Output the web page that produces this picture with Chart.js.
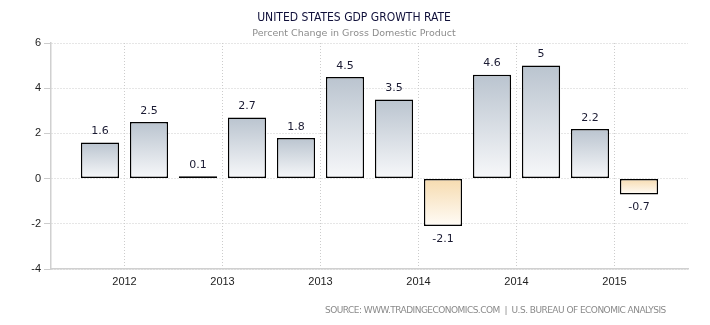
<!DOCTYPE html>
<html>
<head>
<meta charset="utf-8">
<script src="https://cdn.jsdelivr.net/npm/chart.js@4"></script>
<style>
  body { margin: 0; background: #fff; }
</style>
</head>
<body>
<canvas id="gdpChart" width="710" height="325"></canvas>
<script>
/* --------------- Data --------------------- */
const quarters = ["2012 Q1", "2012 Q2", "2012 Q3", "2012 Q4", "2013 Q1", "2013 Q2", "2013 Q3", "2013 Q4", "2014 Q1", "2014 Q2", "2014 Q3", "2014 Q4"];
const growth = [1.6, 2.5, 0.1, 2.7, 1.8, 4.5, 3.5, -2.1, 4.6, 5, 2.2, -0.7];
const yearLabels = ["2012", "2013", "2013", "2014", "2014", "2015"];
const yearTickAt = [0.5, 2.5, 4.5, 6.5, 8.5, 10.5];

const titleText = "UNITED STATES GDP GROWTH RATE";
const subtitleText = "Percent Change in Gross Domestic Product";
const sourceText = "SOURCE: WWW.TRADINGECONOMICS.COM  |  U.S. BUREAU OF ECONOMIC ANALYSIS";

/* --------------- Bar gradient (per bar, top to zero line) --------------------- */
const barFill = (context) => {
  const chart = context.chart;
  const y = chart.scales.y;
  if (!chart.chartArea || !y || context.raw == null) return "#c0c9d3";
  const v = context.raw.y;
  const top = y.getPixelForValue(Math.max(v, 0));
  const bottom = y.getPixelForValue(Math.min(v, 0));
  const g = chart.ctx.createLinearGradient(0, top, 0, bottom === top ? top + 1 : bottom);
  if (v >= 0) {
    g.addColorStop(0, "#bac4cf");
    g.addColorStop(1, "#f7f8fa");
  } else {
    g.addColorStop(0, "#f6dbaf");
    g.addColorStop(1, "#fffcf7");
  }
  return g;
};

/* --------------- Value labels + titles --------------------- */
const textPlugin = {
  id: "textPlugin",
  afterDatasetsDraw(chart) {
    const ctx = chart.ctx;
    const meta = chart.getDatasetMeta(0);
    ctx.save();
    ctx.font = "11px 'DejaVu Sans'";
    ctx.fillStyle = "#1b1b33";
    ctx.textAlign = "center";
    ctx.textBaseline = "middle";
    meta.data.forEach((bar, i) => {
      const v = growth[i];
      const y = v >= 0 ? bar.y - 11 : bar.y + 13;
      ctx.fillText(String(v), bar.x, y);
    });
    ctx.restore();
  },
  afterDraw(chart) {
    const ctx = chart.ctx;
    ctx.save();
    ctx.textAlign = "center";
    ctx.textBaseline = "middle";
    ctx.fillStyle = "#10103a";
    ctx.font = "12px 'DejaVu Sans Condensed', 'DejaVu Sans'";
    ctx.fillText(titleText, 354, 18);
    ctx.fillStyle = "#8c8c8c";
    ctx.font = "9.5px 'DejaVu Sans'";
    ctx.fillText(subtitleText, 354, 34);

    ctx.font = "9px 'DejaVu Sans'";
    ctx.fillStyle = "#8a8a8a";
    ctx.textAlign = "left";
    const w = ctx.measureText(sourceText).width;
    const spacing = (341 - w) / (sourceText.length - 1);
    ctx.letterSpacing = spacing.toFixed(2) + "px";
    ctx.fillText(sourceText, 325, 311);
    ctx.restore();
  }
};

/* --------------- Chart --------------------- */
new Chart(document.getElementById("gdpChart"), {
  type: "bar",
  plugins: [textPlugin],
  data: {
    datasets: [
      {
        label: "GDP Growth Rate",
        data: growth.map((v, i) => ({ x: i, y: v, q: quarters[i] })),
        backgroundColor: barFill,
        borderColor: "#000000",
        borderWidth: 1.5,
        borderSkipped: false,
        barPercentage: 0.78,
        categoryPercentage: 1,
      },
    ],
  },
  options: {
    responsive: false,
    animation: false,
    layout: { padding: { top: 43, right: 22, left: 0, bottom: 0 } },
    plugins: {
      legend: { display: false },
      tooltip: { enabled: false },
    },
    scales: {
      x: {
        type: "linear",
        min: -1,
        max: 12,
        offset: false,
        afterBuildTicks: (scale) => {
          scale.ticks = yearTickAt.map((v) => ({ value: v }));
        },
        afterFit: (scale) => {
          scale.height = 56;
        },
        ticks: {
          autoSkip: false,
          maxRotation: 0,
          padding: 6,
          color: "#222222",
          font: { family: "'Liberation Sans', Arial", size: 11 },
          callback: (v) => yearLabels[yearTickAt.indexOf(v)],
        },
        grid: { color: "#cccccc", drawTicks: false, offset: false },
        border: { color: "#d0d0d0", width: 1.5, dash: [1, 2] },
      },
      y: {
        min: -4,
        max: 6,
        afterFit: (scale) => {
          scale.width = 51;
        },
        ticks: {
          stepSize: 2,
          padding: 3,
          color: "#222222",
          font: { family: "'Liberation Sans', Arial", size: 11 },
        },
        grid: {
          color: "#cccccc",
          tickLength: 7,
          tickColor: "#cccccc",
          tickBorderDash: [],
        },
        border: { color: "#d0d0d0", width: 1.5, dash: [1, 2] },
      },
    },
  },
});
</script>
</body>
</html>
